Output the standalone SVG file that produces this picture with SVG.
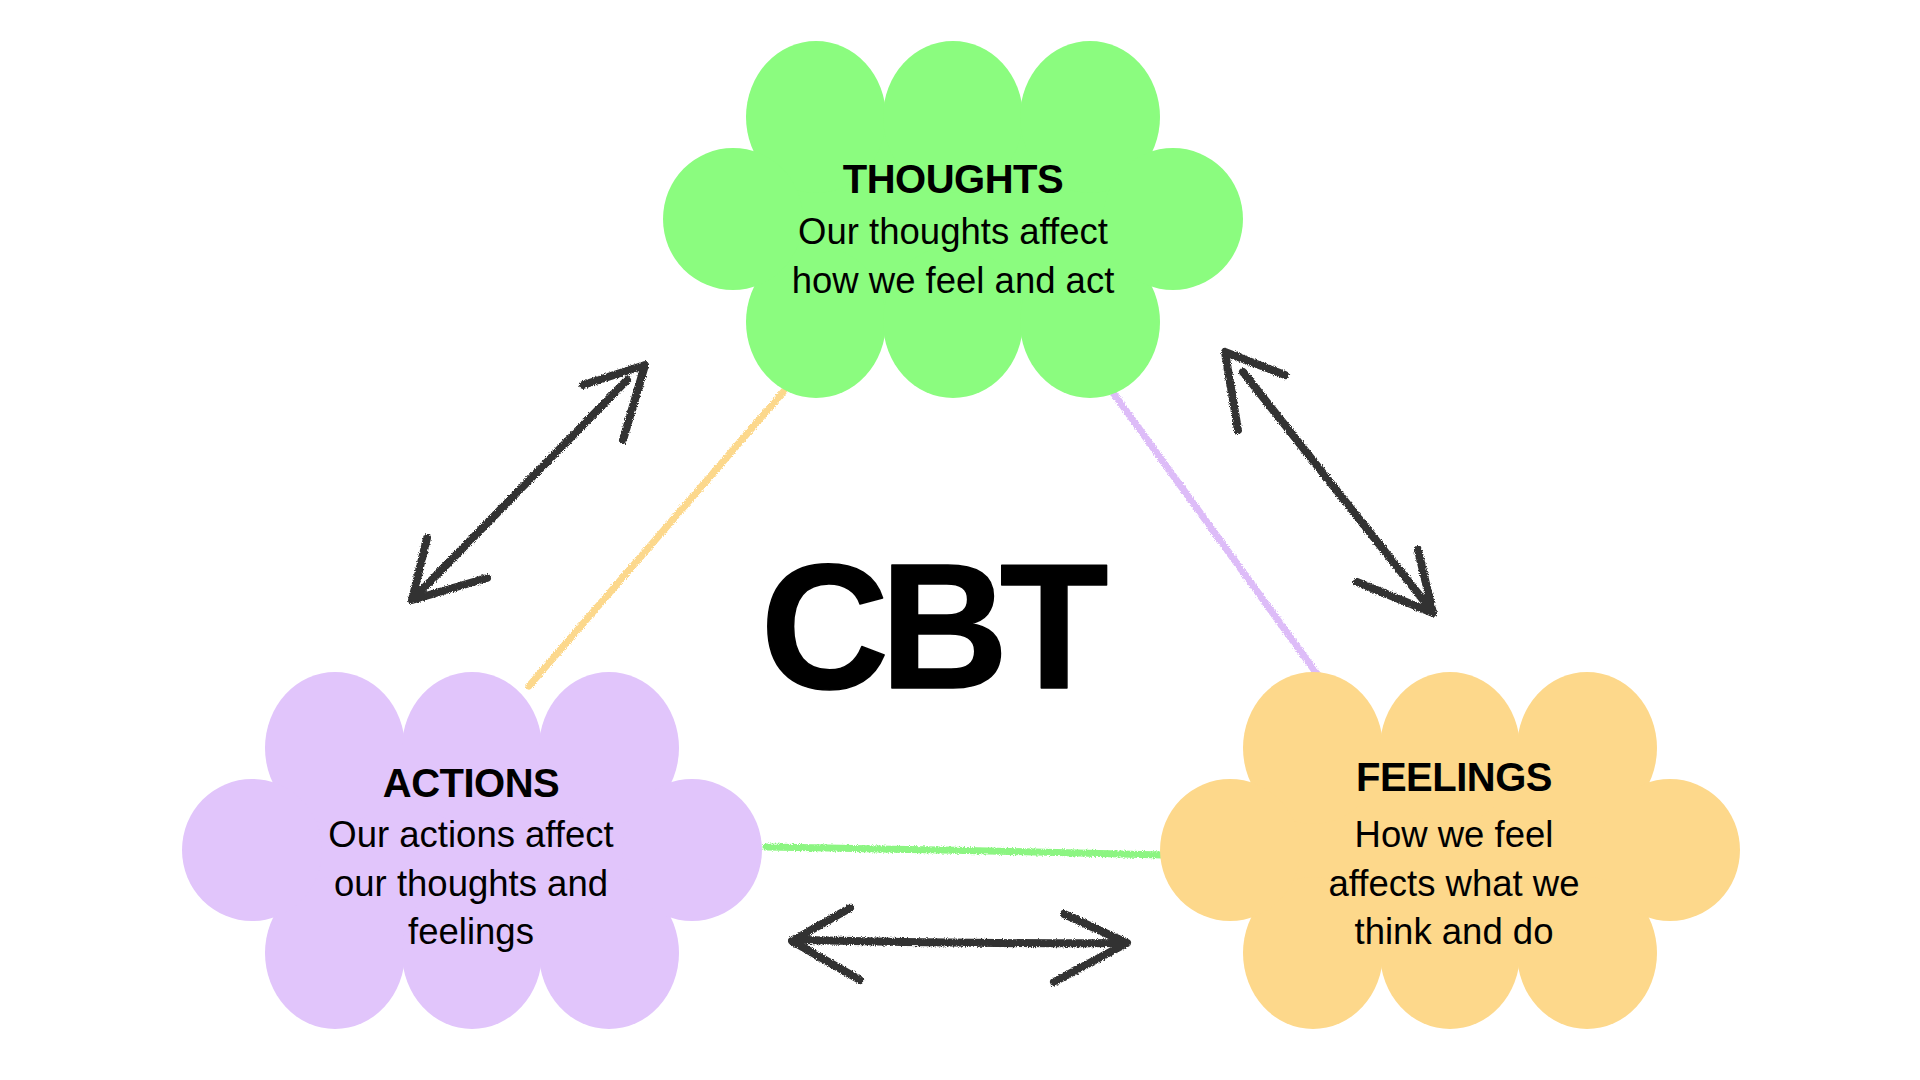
<svg xmlns="http://www.w3.org/2000/svg" xmlns:xlink="http://www.w3.org/1999/xlink" width="1920" height="1080" viewBox="0 0 1920 1080">
<style>
.title{font-family:"Liberation Sans",Arial,sans-serif;font-weight:bold;font-size:40px;letter-spacing:-0.5px;text-anchor:middle;fill:#000}
.body{font-family:"Liberation Sans",Arial,sans-serif;font-size:36.5px;text-anchor:middle;fill:#000}
.cbt{font-family:"Liberation Sans",Arial,sans-serif;font-weight:bold;font-size:178px;letter-spacing:-9px;text-anchor:middle;fill:#000;stroke:#000;stroke-width:1.5;stroke-linejoin:round}
.arrow{fill:none;stroke:#333;stroke-width:8;stroke-linecap:round;stroke-linejoin:round}
.link{fill:none;stroke-width:7;stroke-linecap:round}
</style>
<defs>
<filter id="chalk" filterUnits="userSpaceOnUse" x="0" y="0" width="1920" height="1080">
<feTurbulence type="fractalNoise" baseFrequency="0.9" numOctaves="2" seed="4" result="n"/>
<feDisplacementMap in="SourceGraphic" in2="n" scale="4" xChannelSelector="R" yChannelSelector="G"/>
</filter>
<g id="cloud">
<polygon points="-137,-102 137,-102 220,0 137,103 -137,103 -220,0"/>
<ellipse cx="-137" cy="-102" rx="70" ry="76"/>
<ellipse cx="0" cy="-102" rx="70" ry="76"/>
<ellipse cx="137" cy="-102" rx="70" ry="76"/>
<ellipse cx="-137" cy="103" rx="70" ry="76"/>
<ellipse cx="0" cy="103" rx="70" ry="76"/>
<ellipse cx="137" cy="103" rx="70" ry="76"/>
<ellipse cx="-220" cy="0" rx="70" ry="71"/>
<ellipse cx="220" cy="0" rx="70" ry="71"/>
</g>
</defs>
<rect width="1920" height="1080" fill="#fff"/>
<g id="connectors" filter="url(#chalk)">
<path class="link" stroke="#fcd88c" d="M784,391 L529,686"/>
<path class="link" stroke="#ddbcf8" d="M1114,394 L1317,674"/>
<path class="link" stroke="#8cf582" d="M766,847 Q960,850 1163,855"/>
<path class="arrow" d="M627,380 L418,594"/>
<path class="arrow" d="M583,385 L645,365 L623,440"/>
<path class="arrow" d="M427,538 L412,600 L487,578"/>
<path class="arrow" d="M1243,372 L1428,606"/>
<path class="arrow" d="M1285,375 L1225,352 L1238,430"/>
<path class="arrow" d="M1418,550 L1433,613 L1357,582"/>
<path class="arrow" d="M802,940 Q960,944 1120,943"/>
<path class="arrow" d="M850,908 L792,941 L860,980"/>
<path class="arrow" d="M1064,914 L1127,943 L1054,982"/>
</g>
<g id="thoughts">
<use xlink:href="#cloud" href="#cloud" transform="translate(953,219)" fill="#8bfc7f"/>
<text class="title" x="953" y="193">THOUGHTS</text>
<text class="body" x="953" y="244">Our thoughts affect</text>
<text class="body" x="953" y="293">how we feel and act</text>
</g>
<g id="actions">
<use xlink:href="#cloud" href="#cloud" transform="translate(472,850)" fill="#e1c5fb"/>
<text class="title" x="471" y="797">ACTIONS</text>
<text class="body" x="471" y="847">Our actions affect</text>
<text class="body" x="471" y="896">our thoughts and</text>
<text class="body" x="471" y="944">feelings</text>
</g>
<g id="feelings">
<use xlink:href="#cloud" href="#cloud" transform="translate(1450,850)" fill="#fdd88b"/>
<text class="title" x="1454" y="791">FEELINGS</text>
<text class="body" x="1454" y="847">How we feel</text>
<text class="body" x="1454" y="896">affects what we</text>
<text class="body" x="1454" y="944">think and do</text>
</g>
<g id="center">
<text class="cbt" x="930" y="688">CBT</text>
</g>
</svg>
